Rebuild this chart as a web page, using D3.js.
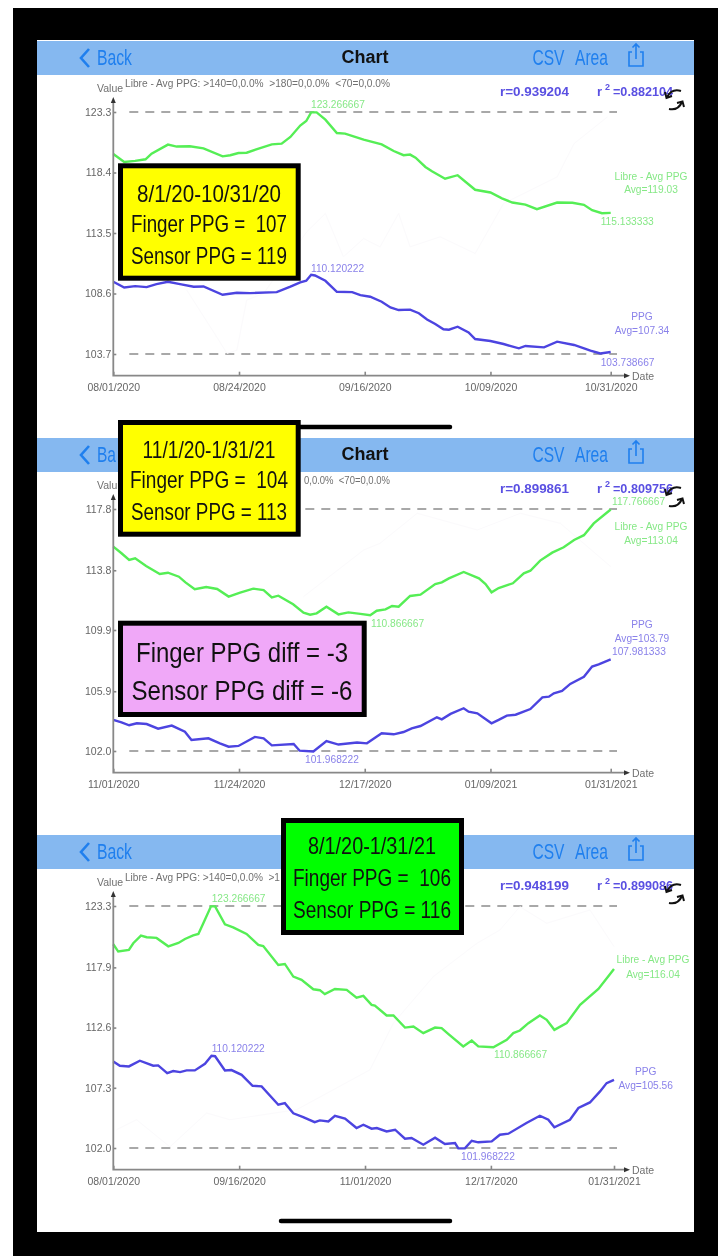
<!DOCTYPE html>
<html lang="en">
<head>
<meta charset="utf-8">
<title>Chart</title>
<script src="https://d3js.org/d3.v7.min.js"></script>
<style>
  html, body { margin: 0; background: #fff; }
  svg { display: block; filter: blur(0.6px); }
  text { font-family: "Liberation Sans", sans-serif; }
  .axis path { display: none; }
  .axis line { stroke: #888; stroke-width: 1.6px; }
  .axis text { fill: #666; font-size: 10.5px; font-family: "Liberation Sans", sans-serif; }
  .axisline { stroke: #888; stroke-width: 1.8px; fill: none; }
  .dash { stroke: #8c8c8c; stroke-width: 1.6px; stroke-dasharray: 9 7; }
  .libre { stroke: #55ee55; stroke-width: 2.4px; fill: none; }
  .ppg { stroke: #4c44e0; stroke-width: 2.4px; fill: none; }
  .ghost { stroke: #fbfafc; stroke-width: 1px; fill: none; }
  .nav { fill: #85b8f0; }
  .btn { fill: #1f7fee; font-size: 22px; }
  .title { fill: #111; font-size: 18px; font-weight: bold; text-anchor: middle; }
  .info { fill: #707070; font-size: 10.5px; }
  .corr { fill: #5a50e2; font-size: 13px; font-weight: bold; }
  .lg { fill: #86e886; font-size: 10.2px; }
  .lb { fill: #8a82ea; font-size: 10.2px; }
  .note { fill: #111; text-anchor: middle; }
</style>
</head>
<body>
<svg width="718" height="1256"></svg>
<script>
// Aug 1 - Oct 31 2020, x = days since start
var libre1Days = [0,2,4,5.9,7,10,11.6,14,16.5,20,21.4,22.9,24.4,26.3,29,30.8,32.4,34.2,35.3,36.2,37.2,38.8,40.9,42.4,45.8,49.1,51.3,53.1,54.3,55.3,57.1,58.3,60.7,63,66.2,69,71.1,73,75.4,77.5,81.2,84,86.1,87.6,89.4,91];
var libre1 = [119.9,119.25,119.34,119.47,119.93,120.66,120.5,120.52,120.36,119.71,119.8,119.98,120.0,120.3,120.68,120.74,121.28,122.2,122.57,123.27,123.27,122.68,121.6,121.55,121.06,120.68,120.14,119.8,119.85,119.6,118.85,118.5,117.9,118.18,117.0,116.78,116.3,115.97,115.8,115.43,115.97,115.95,115.78,115.35,115.1,115.13];
var ppg1Days = [0,2,4,6.1,7.9,10,12.2,14.7,16.5,20,22.6,25,29.9,32.4,34.2,35.3,36.2,36.9,38.8,40.9,43.7,45.2,47,49.1,50.7,52.2,54.3,55.9,57.4,58.9,60.4,61.4,63,65,66.2,69,71.4,74.2,75.4,78.8,81.2,84.3,87.3,89.1,91];
var ppg1 = [109.55,109.09,109.2,109.12,109.36,109.55,109.36,109.15,109.17,108.5,108.66,108.63,108.71,109.15,109.5,109.63,110.12,110.06,109.63,108.74,108.71,108.47,108.34,107.93,107.47,107.26,107.29,107.0,106.5,106.13,105.7,105.67,105.91,105.45,104.91,104.75,104.51,104.16,104.35,104.24,104.7,104.43,103.97,103.74,103.86];
var ghost1Days = [13.4,18.9,20.8,22.6,24.4,27.5,35.4,38.8,42.1,45.8,48.8,52.2,54.3,59.8,66.2,71.4,81.2,84.3,90.4];
var ghost1 = [108.9,105.1,103.75,104,108.07,108.6,113.6,115.08,111.57,113.05,112.38,115.08,112.38,113.19,111.84,115.89,118.04,120.74,122.9];

// Nov 1 2020 - Jan 31 2021
var libre2Days = [0,1.5,2.9,4,6,8.5,10,12,13.2,14.9,17,19,21.1,23.2,25.6,27.5,29,30.2,32.9,34.8,36,37.2,39,41.2,43,45.2,47,48.2,49.8,51,52.2,54.3,56.2,58.9,60.1,61.4,64.1,66.9,68.1,69.2,70.5,73.1,75.1,76.3,78.1,80.3,82.4,84.3,86.1,87.9,91];
var libre2 = [115.34,114.91,114.47,114.58,114.08,113.56,113.64,113.38,113.01,112.56,112.71,112.58,112.08,112.34,112.6,112.51,112.03,112.14,111.58,111.03,110.9,110.99,111.42,110.92,111.05,110.95,110.87,111.16,111.25,111.47,111.42,112.12,112.21,112.9,113.01,113.27,113.69,113.27,112.9,112.36,112.64,112.95,113.6,113.77,114.43,114.95,115.3,115.78,116.09,116.86,117.77];
var ppg2Days = [0,1.5,2.9,4.3,6.1,8.2,10.7,13.1,14.3,17.4,19.5,21.1,22.9,25.9,27.5,29,33,34.1,36.6,39,41.2,44.6,46.4,49.1,51.3,53.1,54.6,56.2,59.2,60.1,61.7,64.1,65,66.6,69.2,70.5,72,73.6,76.3,78.5,79.7,80.6,82.1,83.6,86.1,87.6,88.8,91];
var ppg2 = [104.03,103.87,103.68,103.81,103.76,103.46,103.66,103.26,102.72,102.83,102.5,102.28,102.33,102.92,102.83,102.37,102.46,102.02,101.97,102.65,102.42,102.55,102.5,103.16,103.09,103.24,103.48,103.63,104.2,104.07,104.42,104.79,104.57,104.46,103.81,104.03,104.31,104.37,104.74,105.5,105.55,105.77,105.92,106.38,106.85,107.51,107.66,107.98];
var ghost2Days = [34.8,45.8,48.8,55.6,66.6,74.5,81.8,91];
var ghost2 = [112.08,115.12,115.56,117.52,116.43,117.52,116.86,114.04];

// Aug 1 2020 - Jan 31 2021
var libre3Days = [0,1.8,5.7,7.3,10.1,12.2,15.8,20.1,23.8,26.2,29.2,31.1,32.9,35.7,37.2,40.8,43.8,48.7,53,54.8,60.3,62.7,65.8,68.8,73.1,75.5,77.3,81,85.3,88.9,91.4,94.4,95.6,99.9,102.4,106.6,109.7,113.3,117.6,120,122.4,127.9,131,133.4,138.9,143.8,146.2,148.6,151.7,155.9,158.4,161.2,165.7,170.6,177.3,183];
var libre3 = [119.93,119.29,119.43,120.02,120.69,120.55,120.49,119.75,120.05,120.4,120.72,120.84,121.78,123.27,123.27,121.69,121.42,120.84,119.87,119.78,118.11,118.2,117.09,116.8,115.97,115.89,115.54,116.0,115.92,115.24,115.39,114.6,114.54,113.66,113.66,112.6,112.69,112.11,112.6,112.55,112.05,110.94,111.46,110.94,110.87,111.52,112.11,112.34,112.99,113.66,113.28,112.4,112.99,114.6,116.0,117.76];
var ppg3Days = [0,2.4,5.7,9.7,14.6,16.4,19.7,21.9,24.4,26.8,29.8,33.5,35.9,37.2,40.8,43.2,46.9,50.9,54.2,60.3,62.7,65.8,69.4,73.6,75.5,78.6,81,84.7,88.9,91.4,94.4,96.3,99.9,103,106.6,109,113.3,117.6,121.2,124.9,126.1,128.5,131,133.4,138.3,141.3,144.4,151,155.9,159,161.2,166.9,170,174.2,177.9,180.3,183];
var ppg3 = [109.62,109.24,109.18,109.68,109.24,109.27,108.59,108.77,108.68,108.83,108.83,109.41,110.12,110.08,108.83,108.86,108.44,107.48,107.42,105.81,105.95,105.05,104.72,104.28,104.43,104.34,104.84,104.58,103.76,104.05,103.7,103.76,103.46,103.61,102.82,102.88,102.29,102.91,102.35,102.44,101.97,101.97,102.64,102.5,102.58,103.17,103.26,104.2,104.84,104.49,103.82,104.49,105.52,106.01,106.98,107.71,108.0];
var ghost3Days = [1.2,8.5,20.7,34.1,42.6,67,93.8,102.4,117,132.8,141.3,148.6,158.4,174.2,183];
var ghost3 = [103.61,104.49,102.1,105.08,104.49,105.37,108.88,113,117.09,120,121.19,123.24,121.78,122.95,119.73];

var yTicks1 = [123.3,118.4,113.5,108.6,103.7];
var yTicks2 = [117.8,113.8,109.9,105.9,102.0];
var yTicks3 = [123.3,117.9,112.6,107.3,102.0];
var xDays1 = [0,23,46,69,91];
var xDays3 = [0,46,92,138,183];
var xLabels1 = ["08/01/2020","08/24/2020","09/16/2020","10/09/2020","10/31/2020"];
var xLabels2 = ["11/01/2020","11/24/2020","12/17/2020","01/09/2021","01/31/2021"];
var xLabels3 = ["08/01/2020","09/16/2020","11/01/2020","12/17/2020","01/31/2021"];

// the pasted boxes hide parts of the header in panels 2 and 3, only the visible text is kept
var panels = [
  { top: 41, r: "r=0.939204", r2: "=0.882104", yTicks: yTicks1, xDays: xDays1, xLabels: xLabels1, span: 91, plotRight: 610.7,
    back: ["Back", 35], value: "Value", title: "Chart",
    header: ["Libre - Avg PPG: >140=0,0.0%  >180=0,0.0%  <70=0,0.0%", 125, 265],
    libreDays: libre1Days, libre: libre1, ppgDays: ppg1Days, ppg: ppg1, ghostDays: ghost1Days, ghost: ghost1,
    labels: [
      ["lg","123.266667",311,67.3,"start"], ["lb","110.120222",311,230.7,"start"],
      ["lg","115.133333",600.7,184,"start"], ["lb","103.738667",600.7,325,"start"],
      ["lg","Libre - Avg PPG",651,139,"middle"], ["lg","Avg=119.03",651,152,"middle"],
      ["lb","PPG",642,279,"middle"], ["lb","Avg=107.34",642,293,"middle"] ] },
  { top: 438, r: "r=0.899861", r2: "=0.809756", yTicks: yTicks2, xDays: xDays1, xLabels: xLabels2, span: 91, plotRight: 610.7,
    back: ["Ba", 19], value: "Valu", title: "Chart",
    header: ["0,0.0%  <70=0,0.0%", 304, 86],
    libreDays: libre2Days, libre: libre2, ppgDays: ppg2Days, ppg: ppg2, ghostDays: ghost2Days, ghost: ghost2,
    labels: [
      ["lg","117.766667",612,67,"start"], ["lg","110.866667",371,188.7,"start"],
      ["lb","101.968222",305,325,"start"], ["lb","107.981333",612,217,"start"],
      ["lg","Libre - Avg PPG",651,92,"middle"], ["lg","Avg=113.04",651,106,"middle"],
      ["lb","PPG",642,189.7,"middle"], ["lb","Avg=103.79",642,203.7,"middle"] ] },
  { top: 835, r: "r=0.948199", r2: "=0.899086", yTicks: yTicks3, xDays: xDays3, xLabels: xLabels3, span: 183, plotRight: 614,
    back: ["Back", 35], value: "Value", title: "",
    header: ["Libre - Avg PPG: >140=0,0.0%  >1", 125, 155],
    libreDays: libre3Days, libre: libre3, ppgDays: ppg3Days, ppg: ppg3, ghostDays: ghost3Days, ghost: ghost3,
    labels: [
      ["lg","123.266667",211.7,66.7,"start"], ["lb","110.120222",211.7,216.7,"start"],
      ["lg","110.866667",494,223,"start"], ["lb","101.968222",461,325,"start"],
      ["lg","Libre - Avg PPG",653,128,"middle"], ["lg","Avg=116.04",653,142.7,"middle"],
      ["lb","PPG",645.7,240,"middle"], ["lb","Avg=105.56",645.7,254,"middle"] ] }
];

var boxes = [
  { fill: "#ffff00", x: 118, y: 163.3, w: 182.7, h: 117.4, cx: 209, size: 24,
    lines: [["8/1/20-10/31/20",201.7,144],["Finger PPG =  107",231.7,156],["Sensor PPG = 119",264.3,156]] },
  { fill: "#ffff00", x: 118, y: 420, w: 182.7, h: 116.7, cx: 209, size: 24,
    lines: [["11/1/20-1/31/21",458,133],["Finger PPG =  104",488,158],["Sensor PPG = 113",520,156]] },
  { fill: "#f0a8f8", x: 118, y: 620.7, w: 248.7, h: 96.3, cx: 242, size: 27,
    lines: [["Finger PPG diff = -3",661.7,212],["Sensor PPG diff = -6",700,221]] },
  { fill: "#00ff00", x: 281, y: 818, w: 183, h: 117, cx: 372, size: 24,
    lines: [["8/1/20-1/31/21",854,128],["Finger PPG =  106",886,158],["Sensor PPG = 116",918,158]] }
];

var svg = d3.select("svg");
var axisX = 113.3;

svg.append("rect").attr("x", 13).attr("y", 8).attr("width", 705).attr("height", 1248).attr("fill", "#000");
svg.append("rect").attr("x", 37).attr("y", 40).attr("width", 657).attr("height", 1192).attr("fill", "#fff");

panels.forEach(drawPanel);

// home indicator bars
[[281,450,427],[281,450,1221]].forEach(function(b) {
  svg.append("line").attr("x1", b[0]).attr("x2", b[1]).attr("y1", b[2]).attr("y2", b[2])
    .attr("stroke", "#000").attr("stroke-width", 4.5).attr("stroke-linecap", "round");
});

boxes.forEach(function(b) {
  svg.append("rect").attr("x", b.x + 2.5).attr("y", b.y + 2.5)
    .attr("width", b.w - 5).attr("height", b.h - 5)
    .attr("fill", b.fill).attr("stroke", "#000").attr("stroke-width", 5);
  b.lines.forEach(function(l) {
    svg.append("text").attr("class", "note").attr("x", b.cx).attr("y", l[1])
      .attr("font-size", b.size).attr("textLength", l[2]).attr("lengthAdjust", "spacingAndGlyphs")
      .style("white-space", "pre").text(l[0]);
  });
});

function drawPanel(p) {
  var g = svg.append("g").attr("transform", "translate(0," + p.top + ")");
  var yDomain = [p.yTicks[p.yTicks.length - 1], p.yTicks[0]];
  var x = d3.scaleLinear().domain([0, p.span]).range([axisX, p.plotRight]);
  var y = d3.scaleLinear().domain(yDomain).range([313, 71]);

  // nav bar
  g.append("rect").attr("class", "nav").attr("x", 37).attr("y", 0).attr("width", 657).attr("height", 34);
  g.append("path").attr("d", "M89 8 L81 17 L89 26").attr("fill", "none").attr("stroke", "#1f7fee").attr("stroke-width", 2.6);
  navText(g, p.back[0], 97, 24, p.back[1]);
  navText(g, "CSV", 532.5, 24, 32);
  navText(g, "Area", 575, 24, 33);
  if (p.title) g.append("text").attr("class", "title").attr("x", 365).attr("y", 22).text(p.title);
  g.append("path").attr("d", "M632 11 H629 V25 H643 V11 H640 M636 18 V3 M632.5 6.5 L636 3 L639.5 6.5")
    .attr("fill", "none").attr("stroke", "#1f7fee").attr("stroke-width", 1.6);

  // header text
  g.append("text").attr("class", "info").attr("x", p.header[1]).attr("y", 46).attr("textLength", p.header[2])
    .attr("lengthAdjust", "spacingAndGlyphs").style("white-space", "pre").text(p.header[0]);
  g.append("text").attr("class", "info").attr("x", 97).attr("y", 51).text(p.value);
  g.append("text").attr("class", "info").attr("x", 632).attr("y", 339).text("Date");
  g.append("text").attr("class", "corr").attr("x", 500).attr("y", 55).attr("textLength", 69)
    .attr("lengthAdjust", "spacingAndGlyphs").text(p.r);
  g.append("text").attr("class", "corr").attr("x", 597).attr("y", 55).text("r");
  g.append("text").attr("class", "corr").attr("x", 605).attr("y", 49).style("font-size", "9px").text("2");
  g.append("text").attr("class", "corr").attr("x", 613).attr("y", 55).attr("textLength", 60)
    .attr("lengthAdjust", "spacingAndGlyphs").text(p.r2);

  // rotate icon
  g.append("path").attr("d", "M681 50 Q672 47 667 56 M665 51 L666.5 57 L672 55 M669 68 Q678 70 682 61 M677 62 L682.5 60.5 L684 66")
    .attr("fill", "none").attr("stroke", "#111").attr("stroke-width", 2);

  // dashed limit lines
  yDomain.forEach(function(v) {
    g.append("line").attr("class", "dash").attr("x1", axisX + 16).attr("x2", 617)
      .attr("y1", y(v)).attr("y2", y(v));
  });

  g.append("path").datum(d3.zip(p.ghostDays, p.ghost)).attr("class", "ghost").attr("d", lineFor(x, y));
  g.append("path").datum(d3.zip(p.libreDays, p.libre)).attr("class", "libre").attr("d", lineFor(x, y));
  g.append("path").datum(d3.zip(p.ppgDays, p.ppg)).attr("class", "ppg").attr("d", lineFor(x, y));

  // axes
  g.append("g").attr("class", "axis").attr("transform", "translate(" + axisX + ",0)")
    .call(d3.axisLeft(y).tickValues(p.yTicks).tickFormat(d3.format(".1f")).tickSizeInner(-3).tickSizeOuter(0).tickPadding(2));
  g.append("g").attr("class", "axis").attr("transform", "translate(0,334.7)")
    .call(d3.axisBottom(x).tickValues(p.xDays).tickFormat(function(d, i) { return p.xLabels[i]; })
      .tickSizeInner(-4).tickSizeOuter(0).tickPadding(8));
  g.append("path").attr("class", "axisline").attr("d", "M" + axisX + " 60 V334.7 H625");
  g.append("path").attr("d", "M" + (axisX - 2.5) + " 62 L" + axisX + " 56 L" + (axisX + 2.5) + " 62 Z").attr("fill", "#333");
  g.append("path").attr("d", "M624 332.2 L630 334.7 L624 337.2 Z").attr("fill", "#333");

  // value labels
  p.labels.forEach(function(l) {
    g.append("text").attr("class", l[0]).attr("x", l[2]).attr("y", l[3]).attr("text-anchor", l[4]).text(l[1]);
  });
}

function navText(g, s, tx, ty, len) {
  g.append("text").attr("class", "btn").attr("x", tx).attr("y", ty)
    .attr("textLength", len).attr("lengthAdjust", "spacingAndGlyphs").text(s);
}

function lineFor(x, y) {
  return d3.line().x(function(d) { return x(d[0]); }).y(function(d) { return y(d[1]); });
}
</script>
</body>
</html>
